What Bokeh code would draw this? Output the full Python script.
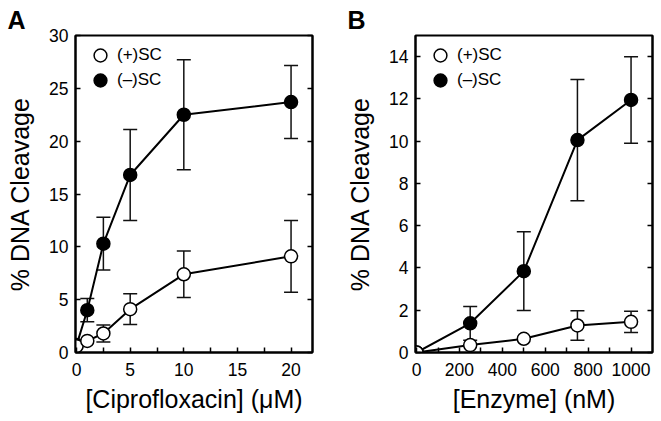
from bokeh.plotting import figure
from bokeh.models import (Whisker, TeeHead, ColumnDataSource, LinearAxis, Range1d, Title,
                          Legend, LegendItem, FixedTicker, CustomJSTickFormatter)
from bokeh.layouts import row
from bokeh.embed import file_html
from bokeh.resources import INLINE

FONT = "Liberation Sans"

# Panel A: ciprofloxacin titration
cipro = [0, 1, 2.5, 5, 10, 20]
a_pos = [0.6, 1.1, 1.8, 4.1, 7.4, 9.1]
a_pos_err = [0, 0, 0.8, 1.45, 2.2, 3.4]
a_neg = [0.7, 4.0, 10.3, 16.8, 22.5, 23.7]
a_neg_err = [0, 1.1, 2.5, 4.3, 5.2, 3.45]
a_xticks = [0, 5, 10, 15, 20]
a_xminor = [2.5, 7.5, 12.5, 17.5]
a_yticks = [0, 5, 10, 15, 20, 25, 30]

# Panel B: enzyme titration
enzyme = [0, 250, 500, 750, 1000]
b_pos = [0, 0.35, 0.65, 1.28, 1.45]
b_pos_err = [0, 0, 0, 0.7, 0.5]
b_neg = [0, 1.38, 3.85, 10.05, 11.95]
b_neg_err = [0, 0.8, 1.86, 2.87, 2.05]
b_xticks = [0, 200, 400, 600, 800, 1000]
b_xminor = [100, 300, 500, 700, 900]
b_yticks = [0, 2, 4, 6, 8, 10, 12, 14]

legend_labels = ["(+)SC", "(\u2013)SC"]

FRAME_W = 237
FRAME_H = 317


def whisker_for(xs, ys, errs):
    keep = [i for i, e in enumerate(errs) if e > 0]
    src = ColumnDataSource(dict(
        x=[xs[i] for i in keep],
        upper=[ys[i] + errs[i] for i in keep],
        lower=[ys[i] - errs[i] for i in keep],
    ))
    return Whisker(source=src, base="x", upper="upper", lower="lower",
                   line_color="#111111", line_width=1.5, level="underlay",
                   upper_head=TeeHead(size=14, line_width=1.5, line_color="#111111"),
                   lower_head=TeeHead(size=14, line_width=1.5, line_color="#111111"))


def one_legend(label, renderer, top_offset):
    # glyph box 32 px tall; its center sits top_offset px below the frame top
    return Legend(items=[LegendItem(label=label, renderers=[renderer])],
                  location=(9, FRAME_H - top_offset - 16),
                  border_line_color=None, background_fill_alpha=0,
                  label_text_font=FONT, label_text_font_size="17px",
                  label_text_color="black",
                  glyph_width=32, glyph_height=32, label_height=32,
                  margin=0, padding=0, label_standoff=1, spacing=0)


def make_panel(xs, pos, pos_err, neg, neg_err, x_rng, y_rng, xticks, xminor, yticks,
               xlabel, letter, left, right):
    width = left + FRAME_W + right
    p = figure(width=width, height=35 + FRAME_H + 65,
               x_range=Range1d(*x_rng), y_range=Range1d(*y_rng),
               output_backend="svg", toolbar_location=None,
               min_border_left=left, min_border_right=right,
               min_border_top=35, min_border_bottom=65)
    p.grid.visible = False
    p.outline_line_color = "black"
    p.outline_line_width = 2
    p.outline_line_alpha = 1
    p.background_fill_color = "white"

    p.title = Title(text=letter, align="left", offset=-68, standoff=4,
                    text_font=FONT, text_font_style="bold", text_font_size="25px",
                    text_color="black")

    for ax in (p.xaxis[0], p.yaxis[0]):
        ax.axis_line_width = 2
        ax.major_tick_in = 5
        ax.major_tick_out = 0
        ax.minor_tick_in = 5
        ax.minor_tick_out = 0
        ax.major_tick_line_width = 1.5
        ax.minor_tick_line_width = 1.5
        ax.major_label_text_font = FONT
        ax.major_label_text_font_size = "17.5px"
        ax.major_label_text_color = "black"
        ax.axis_label_text_font = FONT
        ax.axis_label_text_font_size = "25px"
        ax.axis_label_text_font_style = "normal"
        ax.axis_label_text_color = "black"

    p.xaxis.ticker = FixedTicker(ticks=xticks, minor_ticks=xminor)
    p.yaxis.ticker = FixedTicker(ticks=yticks, minor_ticks=[])
    p.xaxis.axis_label = xlabel
    p.yaxis.axis_label = "% DNA Cleavage"
    p.xaxis.major_label_standoff = 10
    p.yaxis.major_label_standoff = 7
    p.xaxis.axis_label_standoff = 6
    p.yaxis.axis_label_standoff = 12

    right_ax = LinearAxis(ticker=FixedTicker(ticks=yticks, minor_ticks=[]),
                          formatter=CustomJSTickFormatter(code="return ''"),
                          major_tick_in=5, major_tick_out=0, minor_tick_in=0, minor_tick_out=0,
                          major_tick_line_width=1.5, axis_line_width=2,
                          major_label_standoff=0)
    p.add_layout(right_ax, "right")

    p.add_layout(whisker_for(xs, neg, neg_err))
    p.add_layout(whisker_for(xs, pos, pos_err))

    p.line(xs, neg, line_color="black", line_width=2)
    p.line(xs, pos, line_color="black", line_width=2)
    r_neg = p.scatter(xs, neg, size=13, fill_color="black", line_color="black", line_width=1.5)
    r_pos = p.scatter(xs, pos, size=13, fill_color="white", line_color="black", line_width=1.5)

    p.add_layout(one_legend(legend_labels[0], r_pos, 20))
    p.add_layout(one_legend(legend_labels[1], r_neg, 45))
    return p


pA = make_panel(cipro, a_pos, a_pos_err, a_neg, a_neg_err, (-0.1, 22), (0, 30),
                a_xticks, a_xminor, a_yticks, "[Ciprofloxacin] (\u03bcM)", "A", 75, 28)
pB = make_panel(enzyme, b_pos, b_pos_err, b_neg, b_neg_err, (-5, 1100), (0, 15),
                b_xticks, b_xminor, b_yticks, "[Enzyme] (nM)", "B", 75, 3)

layout = row(pA, pB)
open("out.html", "w").write(file_html(layout, INLINE))
